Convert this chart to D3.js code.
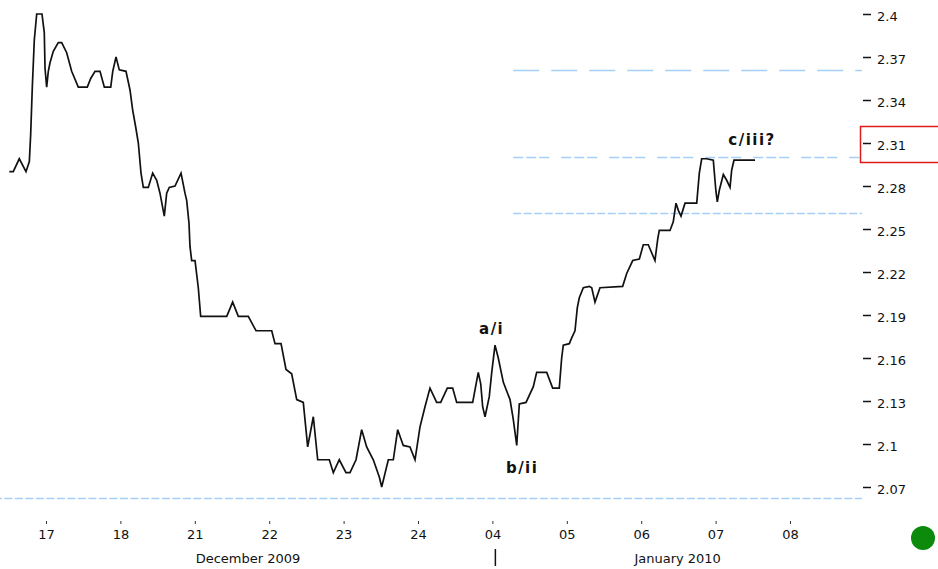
<!DOCTYPE html>
<html><head><meta charset="utf-8">
<script src="https://cdn.jsdelivr.net/npm/d3@7"></script>
<style>body{margin:0;background:#fff}svg{display:block}</style>
</head><body>
<svg id="c" width="938" height="569"></svg>
<script>
// ---- data ----
const dayLabels = ["17","18","21","22","23","24","04","05","06","07","08"];
const monthLabels = ["December 2009","January 2010"];
const monthCenters = [2.715, 8.49];           // in trading-day units
const yearBreak = 6.04;                        // year boundary marker
const yTicks = [2.4,2.37,2.34,2.31,2.28,2.25,2.22,2.19,2.16,2.13,2.1,2.07];
const highlightTick = 2.31;
const times = [-0.493,-0.44,-0.359,-0.269,-0.224,-0.206,-0.184,-0.157,-0.125,-0.054,-0.023,-0.013,0.009,0.031,0.054,0.098,0.165,0.211,0.278,0.345,0.434,0.555,0.601,0.659,0.726,0.784,0.87,0.897,0.941,0.985,1.075,1.129,1.165,1.206,1.241,1.277,1.308,1.375,1.434,1.488,1.532,1.59,1.622,1.657,1.734,1.815,1.868,1.891,1.922,1.935,1.958,2.003,2.047,2.079,2.429,2.509,2.585,2.719,2.823,3.034,3.078,3.159,3.226,3.302,3.37,3.458,3.504,3.517,3.593,3.652,3.808,3.862,3.942,4.032,4.086,4.167,4.243,4.31,4.399,4.48,4.512,4.601,4.668,4.727,4.802,4.892,4.96,5.027,5.094,5.161,5.251,5.305,5.394,5.466,5.52,5.735,5.81,5.843,5.869,5.901,5.958,5.991,6.035,6.079,6.147,6.237,6.281,6.327,6.362,6.452,6.55,6.595,6.73,6.81,6.899,6.931,6.953,7.034,7.066,7.11,7.141,7.168,7.222,7.302,7.335,7.379,7.446,7.751,7.805,7.886,7.975,8.028,8.095,8.185,8.222,8.243,8.387,8.431,8.468,8.499,8.535,8.589,8.746,8.781,8.813,8.88,8.969,9.005,9.023,9.05,9.104,9.149,9.194,9.216,9.247,9.382,9.53];
const values = [2.290,2.290,2.299,2.290,2.297,2.316,2.349,2.382,2.400,2.400,2.387,2.362,2.349,2.360,2.366,2.374,2.380,2.380,2.373,2.360,2.349,2.349,2.355,2.360,2.360,2.349,2.349,2.360,2.370,2.361,2.360,2.347,2.333,2.321,2.310,2.289,2.279,2.279,2.289,2.284,2.275,2.259,2.275,2.279,2.280,2.289,2.275,2.270,2.254,2.238,2.228,2.228,2.209,2.189,2.189,2.199,2.189,2.189,2.179,2.179,2.170,2.170,2.152,2.149,2.131,2.129,2.105,2.098,2.119,2.089,2.089,2.080,2.089,2.080,2.080,2.089,2.110,2.098,2.089,2.077,2.070,2.089,2.089,2.110,2.099,2.098,2.089,2.112,2.126,2.139,2.129,2.129,2.139,2.139,2.129,2.129,2.150,2.142,2.126,2.119,2.133,2.150,2.169,2.160,2.143,2.131,2.117,2.099,2.128,2.129,2.140,2.150,2.150,2.139,2.139,2.160,2.169,2.170,2.174,2.179,2.195,2.202,2.209,2.210,2.209,2.199,2.209,2.210,2.219,2.228,2.229,2.239,2.239,2.228,2.243,2.249,2.249,2.255,2.268,2.263,2.259,2.268,2.268,2.289,2.299,2.299,2.298,2.276,2.269,2.277,2.288,2.284,2.279,2.291,2.298,2.298,2.298];
const levels = [2.361, 2.300, 2.261, 2.062];
const levelStarts = [6.28, 6.28, 6.28, -0.7];
const annotations = ["a/i","b/ii","c/iii?"];
const annoTimes = [5.99, 6.40, 9.49];
const annoValues = [2.177, 2.080, 2.3086];

// ---- layout ----
const svg = d3.select("#c");
const x = d3.scaleLinear().domain([0, 10]).range([46, 790]);
const y = d3.scaleLinear().domain([2.07, 2.4]).range([487, 14]);
const axisX = 863;
const font = "DejaVu Sans, Verdana, sans-serif";

// reference levels
const dashes = ["26,12", "10,3,10,3,10,12", "8,2.5", "8,2.5"];
svg.append("g").selectAll("line").data(levels).join("line")
  .attr("x1", (d,i) => x(levelStarts[i]))
  .attr("x2", axisX - 1)
  .attr("y1", d => Math.round(y(d)) + 0.5)
  .attr("y2", d => Math.round(y(d)) + 0.5)
  .attr("stroke", "#a6d0f7")
  .attr("stroke-width", 1.5)
  .attr("stroke-dasharray", (d,i) => dashes[i]);

// price line
const pts = times.map((t,i) => ({t, v: values[i]}));
svg.append("path").datum(pts)
  .attr("fill", "none")
  .attr("stroke", "#111")
  .attr("stroke-width", 1.7)
  .attr("stroke-linejoin", "miter")
  .attr("d", d3.line().x(d => x(d.t)).y(d => y(d.v)));

// right axis
const yAxis = d3.axisRight(y).tickValues(yTicks)
  .tickFormat(d => d3.format("")(+d.toFixed(2)))
  .tickSize(8).tickPadding(6);
const ga = svg.append("g").attr("transform", `translate(${axisX},0)`).call(yAxis);
ga.select(".domain").remove();
ga.selectAll(".tick line").attr("stroke", "#111").attr("stroke-width", 1.5);
ga.selectAll(".tick text").attr("font-family", font).attr("font-size", 13)
  .attr("fill", "#111").attr("dy", "0.5em");

// highlight box
svg.append("rect")
  .attr("x", 860.5).attr("y", y(highlightTick) - 16.5)
  .attr("width", 90).attr("height", 36)
  .attr("fill", "none").attr("stroke", "#e31a1a").attr("stroke-width", 1.5);

// bottom axis
const xAxis = d3.axisBottom(x).tickValues(d3.range(dayLabels.length))
  .tickFormat(i => dayLabels[i]).tickSize(3).tickPadding(6);
const gx = svg.append("g").attr("transform", "translate(0,521)").call(xAxis);
gx.select(".domain").remove();
gx.selectAll(".tick line").attr("stroke", "#333").attr("stroke-width", 1);
gx.selectAll(".tick text").attr("font-family", font).attr("font-size", 13).attr("fill", "#111");

svg.append("g").selectAll("text").data(monthLabels).join("text")
  .attr("x", (d,i) => x(monthCenters[i])).attr("y", 563)
  .attr("text-anchor", "middle")
  .attr("font-family", font).attr("font-size", 13).attr("fill", "#111")
  .text(d => d);

svg.append("line")
  .attr("x1", x(yearBreak)).attr("x2", x(yearBreak))
  .attr("y1", 549).attr("y2", 566)
  .attr("stroke", "#111").attr("stroke-width", 1.5);

// annotations
svg.append("g").selectAll("text").data(annotations).join("text")
  .attr("x", (d,i) => x(annoTimes[i])).attr("y", (d,i) => y(annoValues[i]))
  .attr("text-anchor", "middle")
  .attr("font-family", font).attr("font-size", 15).attr("font-weight", "bold")
  .attr("letter-spacing", 1.5).attr("fill", "#111")
  .text(d => d);

// status dot
svg.append("circle").attr("cx", 923).attr("cy", 538).attr("r", 12)
  .attr("fill", "#0b8a0b");
</script>
</body></html>
